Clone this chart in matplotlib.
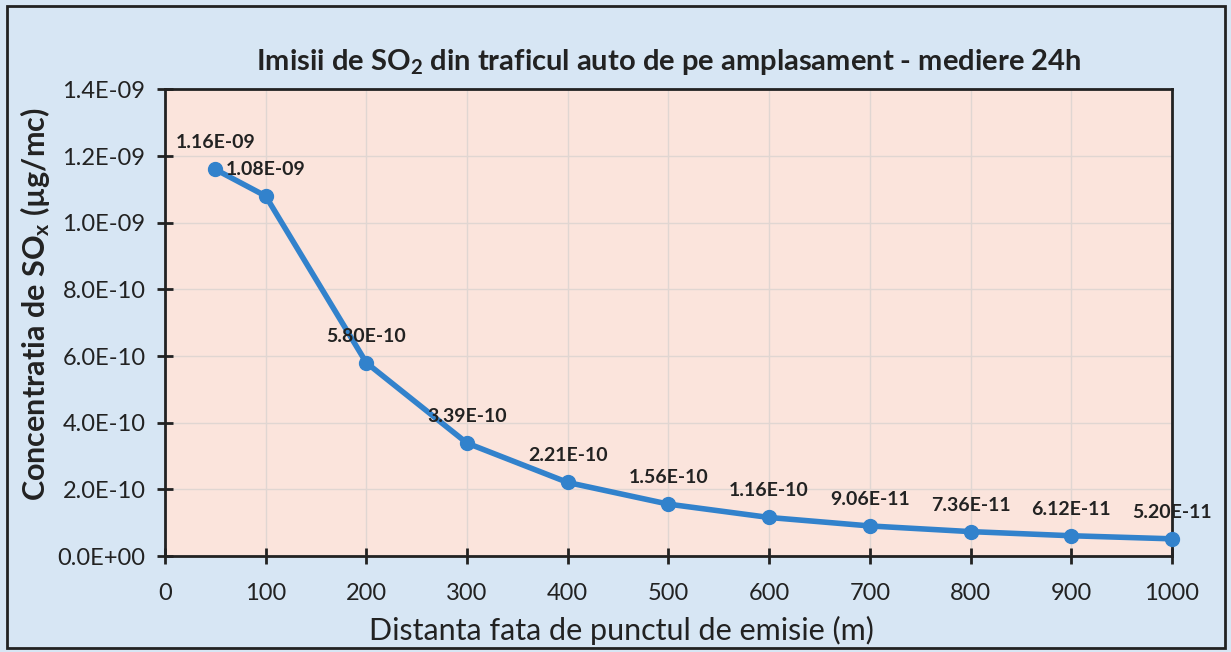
import matplotlib.pyplot as plt
from matplotlib.patches import Rectangle
from matplotlib.ticker import FuncFormatter, MultipleLocator

plt.rcParams['font.family'] = ['Lato', 'DejaVu Sans']
plt.rcParams['mathtext.default'] = 'regular'

distance = [50, 100, 200, 300, 400, 500, 600, 700, 800, 900, 1000]
conc = [1.16e-09, 1.08e-09, 5.80e-10, 3.39e-10, 2.21e-10, 1.56e-10,
        1.16e-10, 9.06e-11, 7.36e-11, 6.12e-11, 5.20e-11]
labels = ['1.16E-09', '1.08E-09', '5.80E-10', '3.39E-10', '2.21E-10', '1.56E-10',
          '1.16E-10', '9.06E-11', '7.36E-11', '6.12E-11', '5.20E-11']

fig = plt.figure(figsize=(12.31, 6.52), dpi=100, facecolor='#d7e6f4')
ax = fig.add_axes([0.134, 0.147, 0.818, 0.716])
ax.set_facecolor('#fbe4dc')

fig.patches.append(Rectangle((0.006, 0.006), 0.989, 0.985, transform=fig.transFigure,
                             fill=False, edgecolor='#222222', linewidth=2))

ax.plot(distance, conc, color='#3282cc', linewidth=4, marker='o', markersize=10,
        solid_capstyle='round', zorder=3, clip_on=False)
for x, y, t in zip(distance, conc, labels):
    ax.annotate(t, (x, y), xytext=(0, 13), textcoords='offset points',
                ha='center', va='bottom', fontsize=14, fontweight='bold',
                color='#222222', zorder=4, annotation_clip=False)

ax.set_xlim(0, 1000)
ax.set_ylim(0, 1.4e-09)
ax.xaxis.set_major_locator(MultipleLocator(100))
ax.yaxis.set_major_locator(MultipleLocator(2e-10))
ax.yaxis.set_major_formatter(FuncFormatter(lambda v, p: f'{v:.1E}'))
ax.grid(True, color='#e0d6d2', linewidth=1)
ax.set_axisbelow(True)

for s in ax.spines.values():
    s.set_color('#222222')
    s.set_linewidth(2)
ax.tick_params(direction='inout', length=12, width=2, color='#222222',
               labelsize=17, labelcolor='#222222', pad=8)
ax.tick_params(axis='x', pad=13)

ax.set_title('Imisii de SO$_2$ din traficul auto de pe amplasament - mediere 24h',
             fontsize=21, fontweight='bold', color='#222222', pad=14)
ax.set_xlabel('Distanta fata de punctul de emisie (m)', fontsize=22, color='#222222')
ax.set_ylabel('Concentratia de SO$_x$ (µg/mc)', fontsize=22, fontweight='bold',
              color='#222222')
ax.xaxis.set_label_coords(0.453, -0.128)
ax.yaxis.set_label_coords(-0.112, 0.54)

fig.savefig('out.png', dpi=100, facecolor=fig.get_facecolor())
